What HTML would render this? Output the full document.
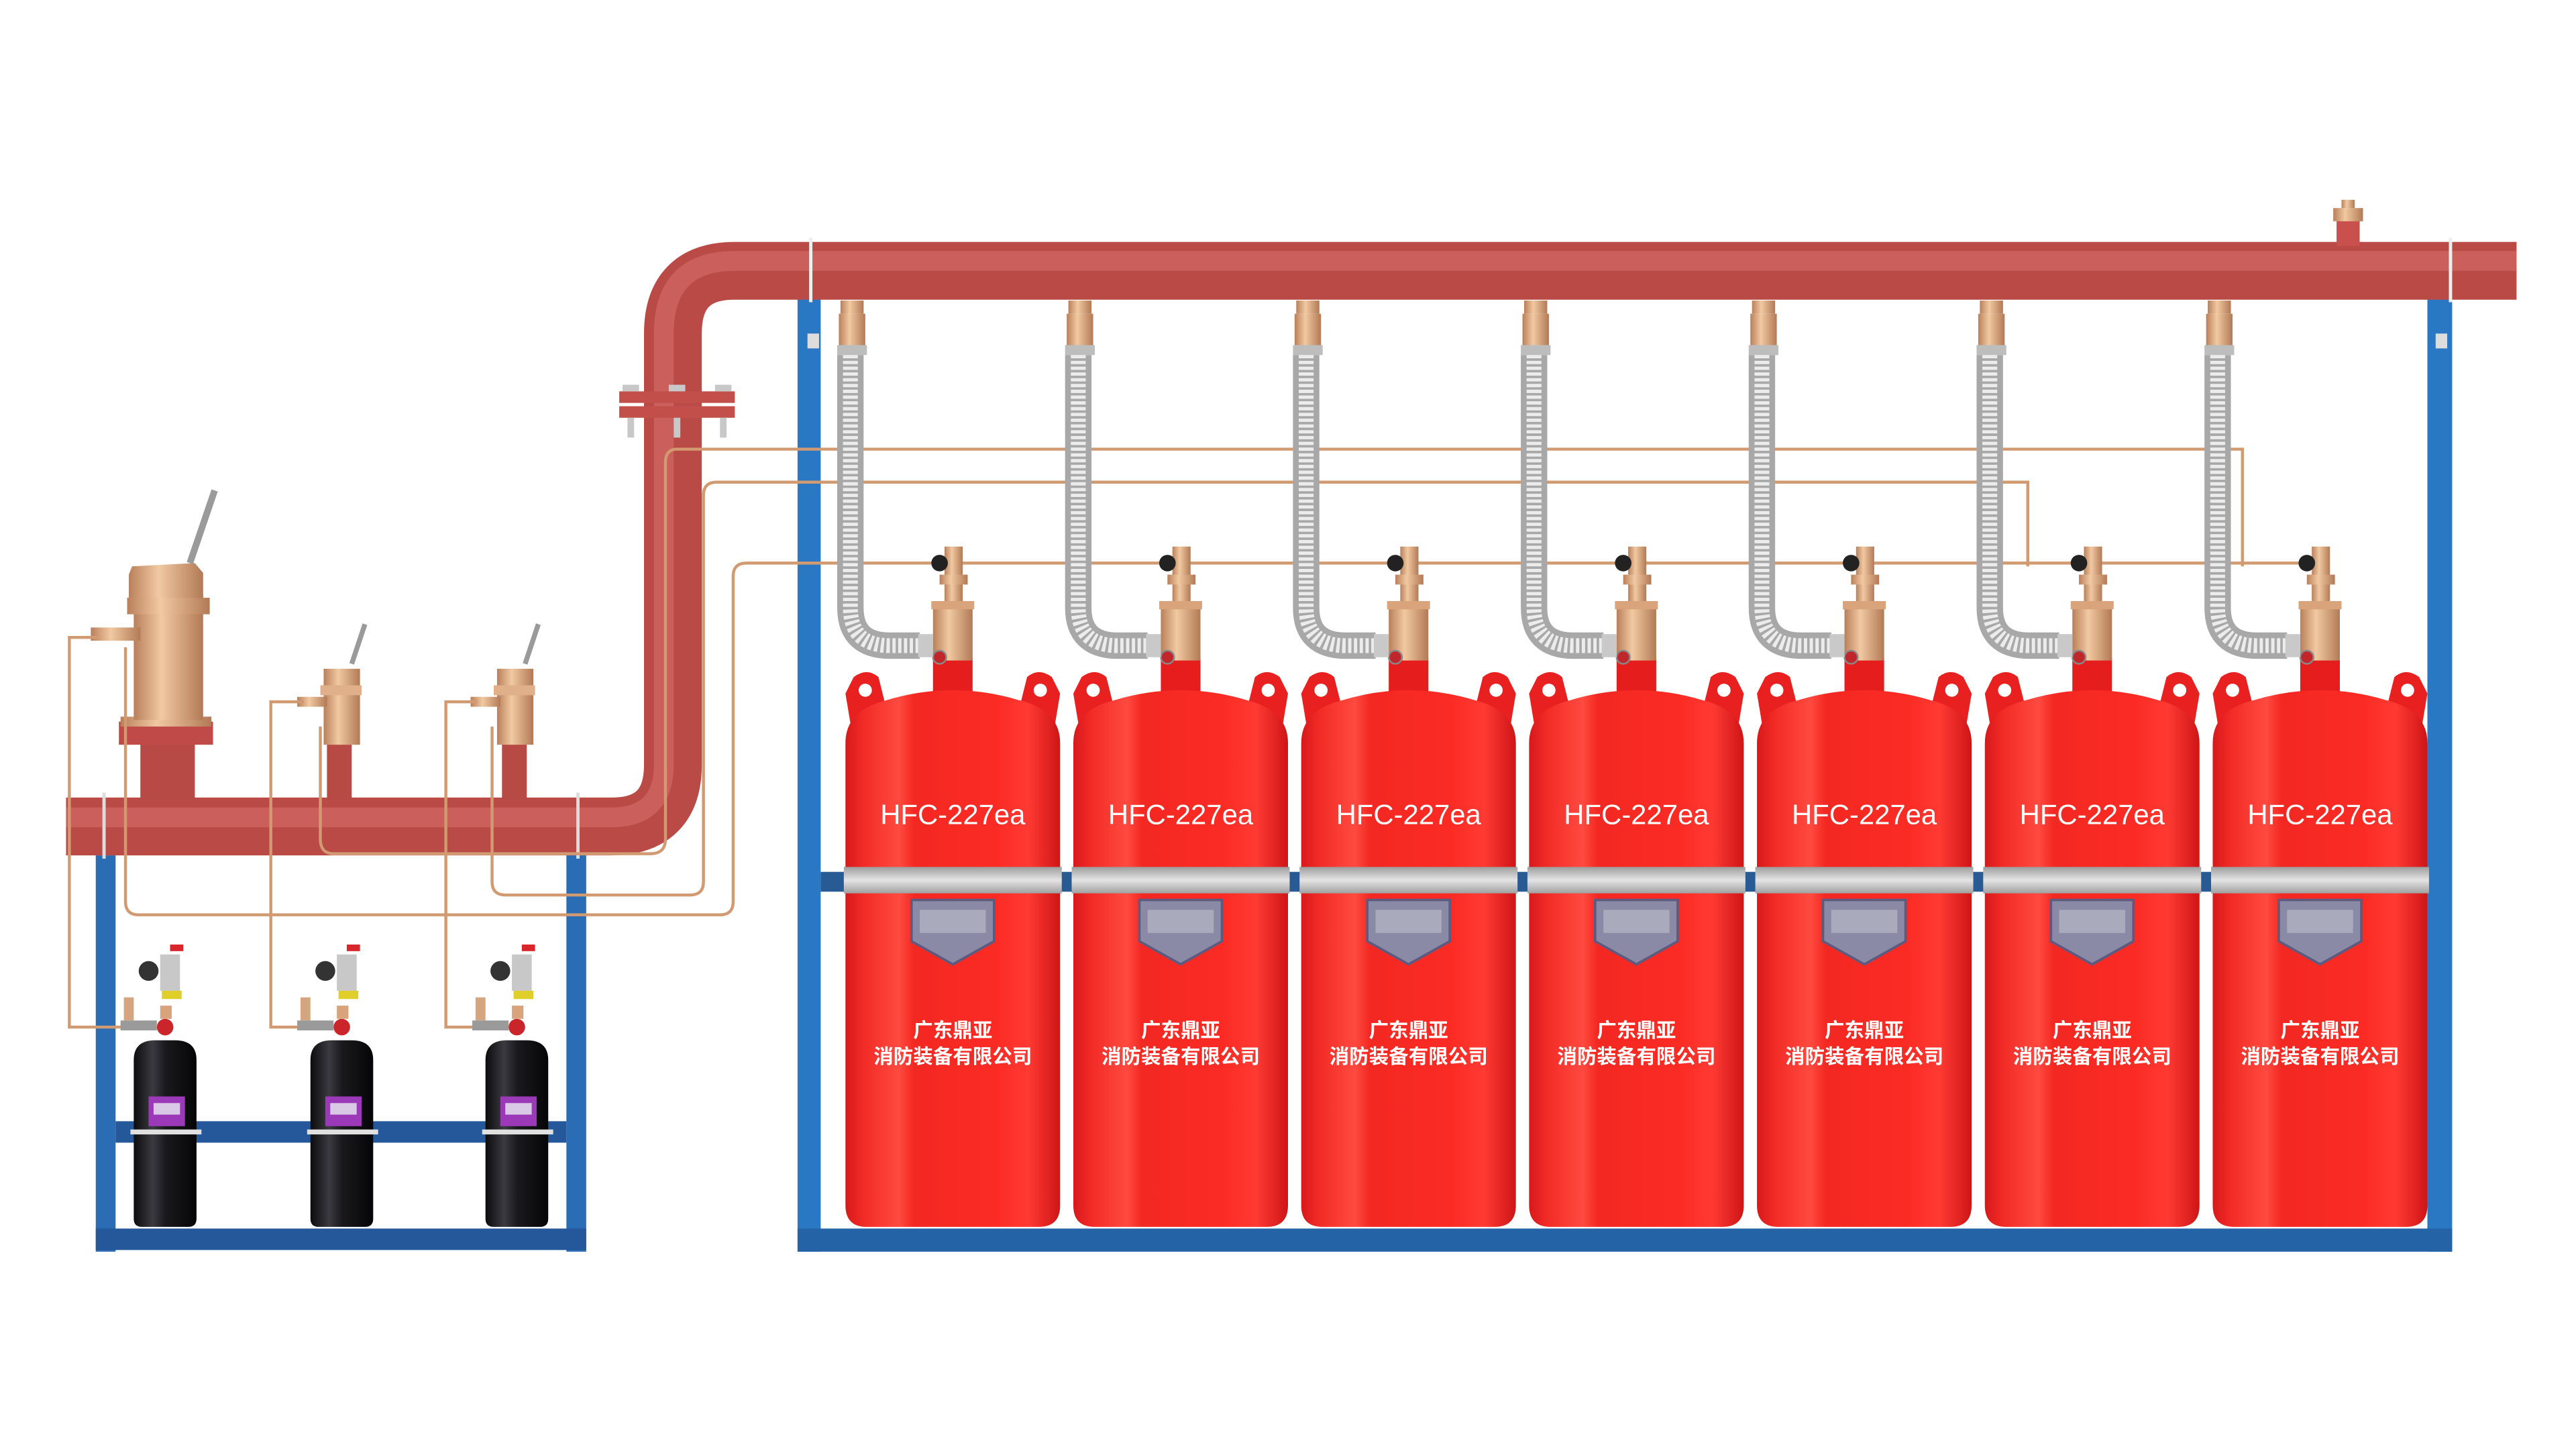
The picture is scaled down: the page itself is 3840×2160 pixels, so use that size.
<!DOCTYPE html>
<html><head><meta charset="utf-8"><style>
html,body{margin:0;padding:0;background:#fff;width:3840px;height:2160px;overflow:hidden}
svg{display:block}
</style></head><body>
<svg width="3840" height="2160" viewBox="0 0 1560 877.5" xmlns="http://www.w3.org/2000/svg">
<defs>
<linearGradient id="pipeH" x1="0" y1="0" x2="0" y2="1"><stop offset="0" stop-color="#c4524e"/><stop offset=".35" stop-color="#d46460"/><stop offset=".8" stop-color="#b8504c"/><stop offset="1" stop-color="#8e3532"/></linearGradient>
<linearGradient id="cyl" x1="0" y1="0" x2="1" y2="0"><stop offset="0" stop-color="#d6191b"/><stop offset=".08" stop-color="#f22a26"/><stop offset=".25" stop-color="#ff4a40"/><stop offset=".32" stop-color="#f32822"/><stop offset=".7" stop-color="#fb2b24"/><stop offset=".85" stop-color="#ff3a33"/><stop offset="1" stop-color="#cf1517"/></linearGradient>
<linearGradient id="blk" x1="0" y1="0" x2="1" y2="0"><stop offset="0" stop-color="#0c0c0e"/><stop offset=".3" stop-color="#3a3a40"/><stop offset=".5" stop-color="#1a1a1e"/><stop offset="1" stop-color="#050506"/></linearGradient>
<linearGradient id="brass" x1="0" y1="0" x2="1" y2="0"><stop offset="0" stop-color="#b9805a"/><stop offset=".4" stop-color="#f1c9a2"/><stop offset="1" stop-color="#b27a55"/></linearGradient>
<linearGradient id="band" x1="0" y1="0" x2="0" y2="1"><stop offset="0" stop-color="#9d9d9d"/><stop offset=".5" stop-color="#e4e4e4"/><stop offset="1" stop-color="#a0a0a0"/></linearGradient>
<g id="redcyl">
  <rect x="-12" y="398" width="24" height="24" fill="#e51d1d"/>
  <path d="M-65,420 L-60,410 Q-52,404 -45,410 L-40,430 L-62,438 Z" fill="#e8201f"/>
  <circle cx="-53" cy="418" r="4" fill="#fff"/>
  <path d="M65,420 L60,410 Q52,404 45,410 L40,430 L62,438 Z" fill="#e8201f"/>
  <circle cx="53" cy="418" r="4" fill="#fff"/>
  <path d="M-65,450 Q-65,430 -40,424 Q0,412 40,424 Q65,430 65,450 L65,730 Q65,743 52,743 L-52,743 Q-65,743 -65,730 Z" fill="url(#cyl)"/>
  <rect x="-66" y="525" width="132" height="16" fill="url(#band)"/>
  <path d="M-25,545 L25,545 L25,570 L0,584 L-25,570 Z" fill="#8a8aa6" stroke="#5d5a80" stroke-width="1.5"/>
  <rect x="-20" y="551" width="40" height="14" fill="#a9aabb"/>
  <text x="0" y="499" font-family="Liberation Sans, sans-serif" font-size="17" fill="#fff" text-anchor="middle">HFC-227ea</text>
  <text x="0" y="628" font-family="Liberation Sans, 'Noto Sans CJK SC', sans-serif" font-size="12" font-weight="bold" fill="#fff" text-anchor="middle">广东鼎亚</text>
  <text x="0" y="644" font-family="Liberation Sans, 'Noto Sans CJK SC', sans-serif" font-size="12" font-weight="bold" fill="#fff" text-anchor="middle">消防装备有限公司</text>
  <rect x="-5" y="331" width="11" height="34" fill="url(#brass)"/>
  <rect x="-8" y="348" width="17" height="6" fill="url(#brass)"/>
  <rect x="-12" y="364" width="24" height="36" fill="url(#brass)"/>
  <rect x="-13" y="364" width="26" height="5" fill="#d9a37c"/>
  <circle cx="-8" cy="341" r="5" fill="#222"/>
  <circle cx="-8" cy="398" r="4" fill="#c0262a" stroke="#888" stroke-width="1"/>
  <rect x="-68" y="182" width="14" height="8" fill="url(#brass)"/>
  <rect x="-69" y="190" width="16" height="22" fill="url(#brass)"/>
  <rect x="-70" y="209" width="18" height="6" fill="#bdbdbd"/>
  <path d="M-62,215 L-62,368 Q-62,391 -38,391 L-20,391" fill="none" stroke="#a8a8a8" stroke-width="16"/>
  <path d="M-62,215 L-62,368 Q-62,391 -38,391 L-20,391" fill="none" stroke="#ececec" stroke-width="9" stroke-dasharray="2 1.5"/>
  <rect x="-21" y="384" width="9" height="14" fill="#c9c9c9"/>
</g>
<g id="blackcyl">
  <path d="M-19,642 Q-19,630 -6,630 L6,630 Q19,630 19,642 L19,738 Q19,743 14,743 L-14,743 Q-19,743 -19,738 Z" fill="url(#blk)"/>
  <rect x="-10" y="664" width="22" height="18" fill="#9b39b8"/>
  <rect x="-7" y="668" width="16" height="7" fill="#d9c8e6"/>
  <rect x="-21" y="684" width="43" height="3" fill="#e0e0e0"/>
  <circle cx="0" cy="622" r="5" fill="#c9252a"/>
  <rect x="-3" y="609" width="7" height="8" fill="#d9a37c"/>
  <rect x="-3" y="578" width="12" height="22" fill="#c8c8c8"/>
  <rect x="-2" y="600" width="12" height="5" fill="#e0cf2b"/>
  <circle cx="-10" cy="588" r="6" fill="#333"/>
  <rect x="3" y="572" width="8" height="4" fill="#d9262a"/>
  <rect x="-25" y="604" width="6" height="14" fill="#d6a57f"/>
  <rect x="-27" y="618" width="22" height="6" fill="#9a9a9a"/>
</g>
</defs>

<!-- right frame -->
<rect x="483" y="181" width="14" height="577" fill="#2a78c4"/>
<rect x="1470" y="181" width="15" height="577" fill="#2a78c4"/>
<rect x="483" y="744" width="1002" height="14" fill="#2463a6"/>
<rect x="497" y="528" width="973" height="12" fill="#285a93"/>
<rect x="489" y="202" width="7" height="9" fill="#ddd"/>
<rect x="1475" y="202" width="7" height="9" fill="#ddd"/>

<!-- left frame -->
<rect x="58" y="518" width="12" height="240" fill="#2a6db5"/>
<rect x="343" y="518" width="12" height="240" fill="#2a6db5"/>
<rect x="58" y="744" width="297" height="13" fill="#24589a"/>
<rect x="70" y="679" width="273" height="13" fill="#24589a"/>

<!-- pipes -->
<path d="M40,500.5 L370,500.5 Q407.5,500.5 407.5,463 L407.5,202 Q407.5,164 445,164 L1524,164" fill="none" stroke="#b94a46" stroke-width="35"/>
<path d="M40,495 L370,495 Q402,495 402,463 L402,202 Q402,158 445,158 L1524,158" fill="none" stroke="#d06460" stroke-width="12" opacity=".8"/>
<rect x="1415" y="131" width="14" height="18" fill="#c9504c"/>
<rect x="1413" y="126" width="18" height="8" fill="url(#brass)"/>
<rect x="1418" y="121" width="8" height="5" fill="url(#brass)"/>
<rect x="490" y="144" width="2" height="39" fill="#eee"/>
<rect x="1483" y="144" width="2" height="39" fill="#eee"/>
<rect x="375" y="237" width="70" height="7" fill="#c34f4b"/>
<rect x="375" y="246" width="70" height="7" fill="#c34f4b"/>
<g fill="#c8c8c8"><rect x="377" y="233" width="10" height="4"/><rect x="405" y="233" width="10" height="4"/><rect x="433" y="233" width="10" height="4"/><rect x="380" y="253" width="4" height="12"/><rect x="408" y="253" width="4" height="12"/><rect x="436" y="253" width="4" height="12"/></g>
<rect x="62" y="480" width="2" height="40" fill="#ddd"/>
<rect x="349" y="480" width="2" height="40" fill="#ddd"/>
<rect x="85" y="448" width="33" height="36" fill="#b84a46"/>
<rect x="198" y="450" width="15" height="34" fill="#b84a46"/>
<rect x="304" y="450" width="15" height="34" fill="#b84a46"/>
<!-- big valve -->
<rect x="72" y="437" width="57" height="14" fill="#c04a47"/>
<rect x="73" y="434" width="55" height="6" fill="url(#brass)"/>
<rect x="81" y="360" width="42" height="76" fill="url(#brass)"/>
<path d="M78,348 L80,343 L118,341 L123,347 L123,362 L78,362 Z" fill="url(#brass)"/>
<rect x="77" y="362" width="50" height="10" fill="url(#brass)"/>
<line x1="115" y1="341" x2="130" y2="297" stroke="#9a9a9a" stroke-width="4"/>
<rect x="55" y="380" width="30" height="8" fill="url(#brass)"/>
<rect x="196" y="405" width="22" height="46" fill="url(#brass)"/>
<rect x="194" y="415" width="25" height="6" fill="#e0b08a"/>
<line x1="213" y1="402" x2="221" y2="378" stroke="#9a9a9a" stroke-width="3"/>
<rect x="180" y="422" width="18" height="6" fill="url(#brass)"/>
<rect x="301" y="405" width="22" height="46" fill="url(#brass)"/>
<rect x="299" y="415" width="25" height="6" fill="#e0b08a"/>
<line x1="318" y1="402" x2="326" y2="378" stroke="#9a9a9a" stroke-width="3"/>
<rect x="285" y="422" width="18" height="6" fill="url(#brass)"/>

<g fill="none" stroke="#d29a70" stroke-width="1.8">
<path d="M1358,343 L1358,272 L410,272 Q403,272 403,280 L403,508 Q403,517 394,517 L202,517 Q194,517 194,508 L194,440"/>
<path d="M1228,343 L1228,292 L434,292 Q426,292 426,300 L426,534 Q426,542 418,542 L306,542 Q298,542 298,534 L298,440"/>
<path d="M1405,341 L452,341 Q444,341 444,349 L444,546 Q444,554 436,554 L84,554 Q76,554 76,546 L76,392"/>
<path d="M60,386 L42,386 L42,622 L78,622"/>
<path d="M184,425 L164,425 L164,622 L185,622"/>
<path d="M289,425 L270,425 L270,622 L291,622"/>
</g>

<use href="#redcyl" transform="translate(577,0)"/>
<use href="#redcyl" transform="translate(715,0)"/>
<use href="#redcyl" transform="translate(853,0)"/>
<use href="#redcyl" transform="translate(991,0)"/>
<use href="#redcyl" transform="translate(1129,0)"/>
<use href="#redcyl" transform="translate(1267,0)"/>
<use href="#redcyl" transform="translate(1405,0)"/>

<use href="#blackcyl" transform="translate(100,0)"/>
<use href="#blackcyl" transform="translate(207,0)"/>
<use href="#blackcyl" transform="translate(313,0)"/>
</svg>
</body></html>
